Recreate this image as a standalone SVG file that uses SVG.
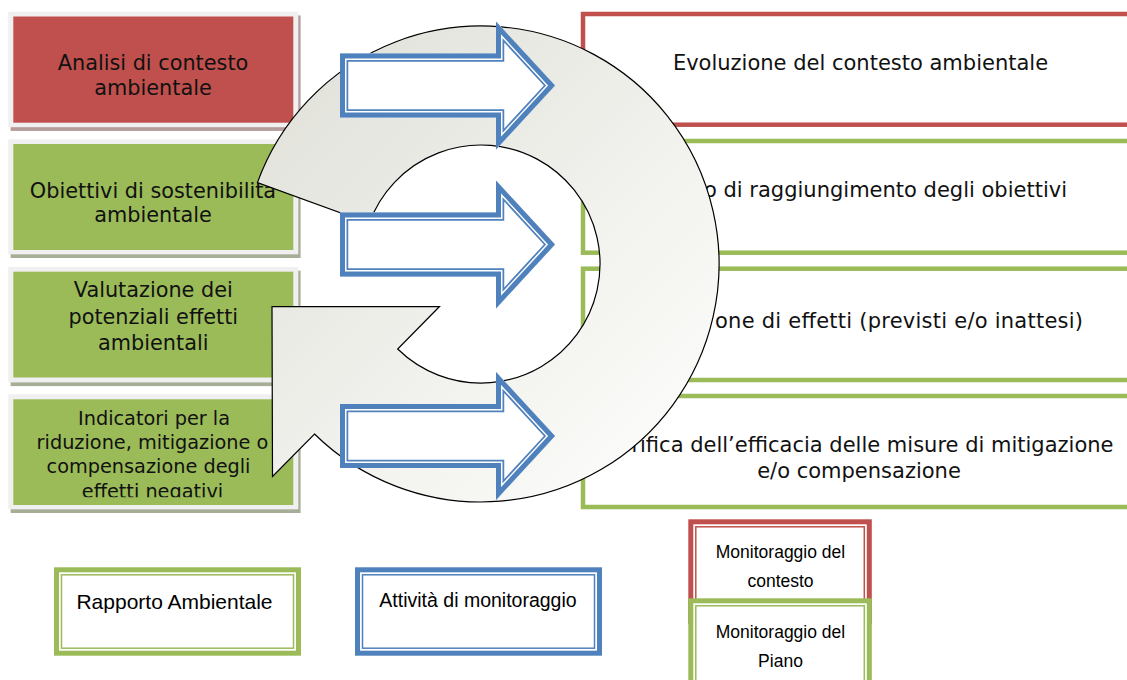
<svg xmlns="http://www.w3.org/2000/svg" xmlns:xlink="http://www.w3.org/1999/xlink" width="1127" height="680" viewBox="0 0 1127 680">
<defs>
<style>
.frame{fill:#f0f0f0}
.shR{fill:#b39c9a}
.shG{fill:#a7ae98}
.fR{fill:#c0504d}
.fG{fill:#9bbb59}
.vt{font-family:"DejaVu Sans",Verdana,sans-serif;fill:#111;font-size:20.8px;text-anchor:middle}
.vt4{font-family:"DejaVu Sans",Verdana,sans-serif;fill:#111;font-size:19.3px;text-anchor:middle}
.rt{font-family:"DejaVu Sans",Verdana,sans-serif;fill:#111;font-size:21px}
.rbR{fill:#fff;stroke:#c0504d;stroke-width:4.5}
.rbG{fill:#fff;stroke:#9bbb59;stroke-width:4.5}
.ring{fill:url(#ringGrad);stroke:#000;stroke-width:1.2;stroke-linejoin:miter}
.ab1{fill:none;stroke:#4f81bd;stroke-width:16.5;stroke-linejoin:miter}
.aw{fill:none;stroke:#fff;stroke-width:13;stroke-linejoin:miter}
.ab2{fill:none;stroke:#4f81bd;stroke-width:10;stroke-linejoin:miter}
.afill{fill:#fff}
.lg{font-family:"Liberation Sans",Arial,sans-serif;fill:#000;text-anchor:middle}
.wIn{fill:#fff}
</style>
<linearGradient id="ringGrad" gradientUnits="userSpaceOnUse" x1="260" y1="100" x2="620" y2="460">
<stop offset="0" stop-color="#e2e2db"/>
<stop offset="1" stop-color="#fafaf8"/>
</linearGradient>
<path id="blk" d="M0,-32 H156 V-64 L215,0 L156,64 V32 H0 Z"/>
<clipPath id="clipArrow"><use href="#blk" xlink:href="#blk"/></clipPath>
<clipPath id="clipBox4"><rect x="10" y="395" width="290" height="102.3"/></clipPath>
</defs>

<!-- left boxes -->
<g id="node-analisi">
<rect class="shR" x="10.6" y="15.4" width="290" height="115.5"/>
<rect class="frame" x="8.3" y="11.7" width="290" height="115.5"/>
<rect class="fR" x="13.3" y="16.5" width="280" height="106.2"/>
<text class="vt" x="153" y="70">Analisi di contesto</text>
<text class="vt" x="153" y="95">ambientale</text>
</g>
<g id="node-obiettivi">
<rect class="shG" x="10.6" y="143" width="290" height="115"/>
<rect class="frame" x="8.3" y="139.3" width="290" height="115"/>
<rect class="fG" x="13.3" y="144" width="280" height="106"/>
<text class="vt" x="153" y="198">Obiettivi di sostenibilita</text>
<text class="vt" x="153" y="222">ambientale</text>
</g>
<g id="node-valutazione">
<rect class="shG" x="10.6" y="270.6" width="290" height="115.5"/>
<rect class="frame" x="8.3" y="266.9" width="290" height="115.5"/>
<rect class="fG" x="13.3" y="271.7" width="280" height="105.8"/>
<text class="vt" x="153.3" y="297.3">Valutazione dei</text>
<text class="vt" x="153.3" y="324">potenziali effetti</text>
<text class="vt" x="153.3" y="350">ambientali</text>
</g>
<g id="node-indicatori">
<rect class="shG" x="10.6" y="398" width="290" height="115"/>
<rect class="frame" x="8.3" y="394.3" width="290" height="115"/>
<rect class="fG" x="13.3" y="399.3" width="280" height="105.7"/>
<g clip-path="url(#clipBox4)">
<text class="vt4" x="154" y="425">Indicatori per la</text>
<text class="vt4" x="152.5" y="449.3">riduzione, mitigazione o</text>
<text class="vt4" x="148.5" y="472.8">compensazione degli</text>
<text class="vt4" x="152.5" y="497.6">effetti negativi</text>
</g>
</g>

<!-- right boxes -->
<g id="node-evoluzione">
<rect class="rbR" x="583" y="14" width="560" height="110.7"/>
<text class="rt" x="860.5" y="70" text-anchor="middle">Evoluzione del contesto ambientale</text>
</g>
<g id="node-raggiungimento">
<rect class="rbG" x="583" y="141" width="560" height="111.7"/>
<text class="rt" x="1067" y="197" text-anchor="end">o di raggiungimento degli obiettivi</text>
</g>
<g id="node-effetti">
<rect class="rbG" x="583" y="268.7" width="560" height="111.3"/>
<text class="rt" x="715" y="328" textLength="368" lengthAdjust="spacing">one di effetti (previsti e/o inattesi)</text>
</g>
<g id="node-verifica">
<rect class="rbG" x="583" y="396" width="560" height="111"/>
<text class="rt" x="1113.5" y="452" text-anchor="end">rifica dell’efficacia delle misure di mitigazione</text>
<text class="rt" x="859" y="478.3" text-anchor="middle">e/o compensazione</text>
</g>

<!-- connectors: circular arrow and block arrows -->
<g id="connectors">
<path id="circular-arrow" class="ring" d="M257.4,182.6 A238,238 0 1 1 314.5,434 L272.5,476.5 L272,306.7 L439.5,306.5 L397.7,349 A119,119 0 1 0 369.2,223.3 Z"/>
<g id="arrow-1" transform="translate(340,85.5)">
<g clip-path="url(#clipArrow)">
<use href="#blk" xlink:href="#blk" class="afill"/>
<use href="#blk" xlink:href="#blk" class="ab1"/>
<use href="#blk" xlink:href="#blk" class="aw"/>
<use href="#blk" xlink:href="#blk" class="ab2"/>
</g>
</g>
<g id="arrow-2" transform="translate(340,244.5)">
<g clip-path="url(#clipArrow)">
<use href="#blk" xlink:href="#blk" class="afill"/>
<use href="#blk" xlink:href="#blk" class="ab1"/>
<use href="#blk" xlink:href="#blk" class="aw"/>
<use href="#blk" xlink:href="#blk" class="ab2"/>
</g>
</g>
<g id="arrow-3" transform="translate(340,436)">
<g clip-path="url(#clipArrow)">
<use href="#blk" xlink:href="#blk" class="afill"/>
<use href="#blk" xlink:href="#blk" class="ab1"/>
<use href="#blk" xlink:href="#blk" class="aw"/>
<use href="#blk" xlink:href="#blk" class="ab2"/>
</g>
</g>
</g>

<!-- legend -->
<g id="legend-rapporto">
<rect x="54" y="567.3" width="247" height="88.4" fill="#9bbb59"/>
<rect class="wIn" x="59" y="572.3" width="237" height="78.4"/>
<rect x="61.5" y="574.8" width="232" height="73.4" fill="none" stroke="#9bbb59" stroke-width="1.5"/>
<text class="lg" x="174.5" y="609.3" font-size="21">Rapporto Ambientale</text>
</g>
<g id="legend-attivita">
<rect x="355" y="567.3" width="247" height="88.4" fill="#4f81bd"/>
<rect class="wIn" x="360" y="572.3" width="237" height="78.4"/>
<rect x="362.5" y="574.8" width="232" height="73.4" fill="none" stroke="#4f81bd" stroke-width="1.5"/>
<text class="lg" x="478" y="607" font-size="19.5">Attività di monitoraggio</text>
</g>
<g id="legend-contesto">
<rect x="688.3" y="519.3" width="183.5" height="105" fill="#c0504d"/>
<rect class="wIn" x="693.3" y="524.3" width="173.5" height="95"/>
<rect x="695.8" y="526.8" width="168.5" height="90" fill="none" stroke="#c0504d" stroke-width="1.5"/>
<text class="lg" x="780.5" y="558" font-size="17.5">Monitoraggio del</text>
<text class="lg" x="780.5" y="587" font-size="17.5">contesto</text>
</g>
<g id="legend-piano">
<rect x="688.3" y="598.3" width="183.5" height="100" fill="#9bbb59"/>
<rect class="wIn" x="693.3" y="603.3" width="173.5" height="90"/>
<rect x="695.8" y="605.8" width="168.5" height="85" fill="none" stroke="#9bbb59" stroke-width="1.5"/>
<text class="lg" x="780.5" y="638" font-size="17.5">Monitoraggio del</text>
<text class="lg" x="780.5" y="667" font-size="17.5">Piano</text>
</g>
</svg>
